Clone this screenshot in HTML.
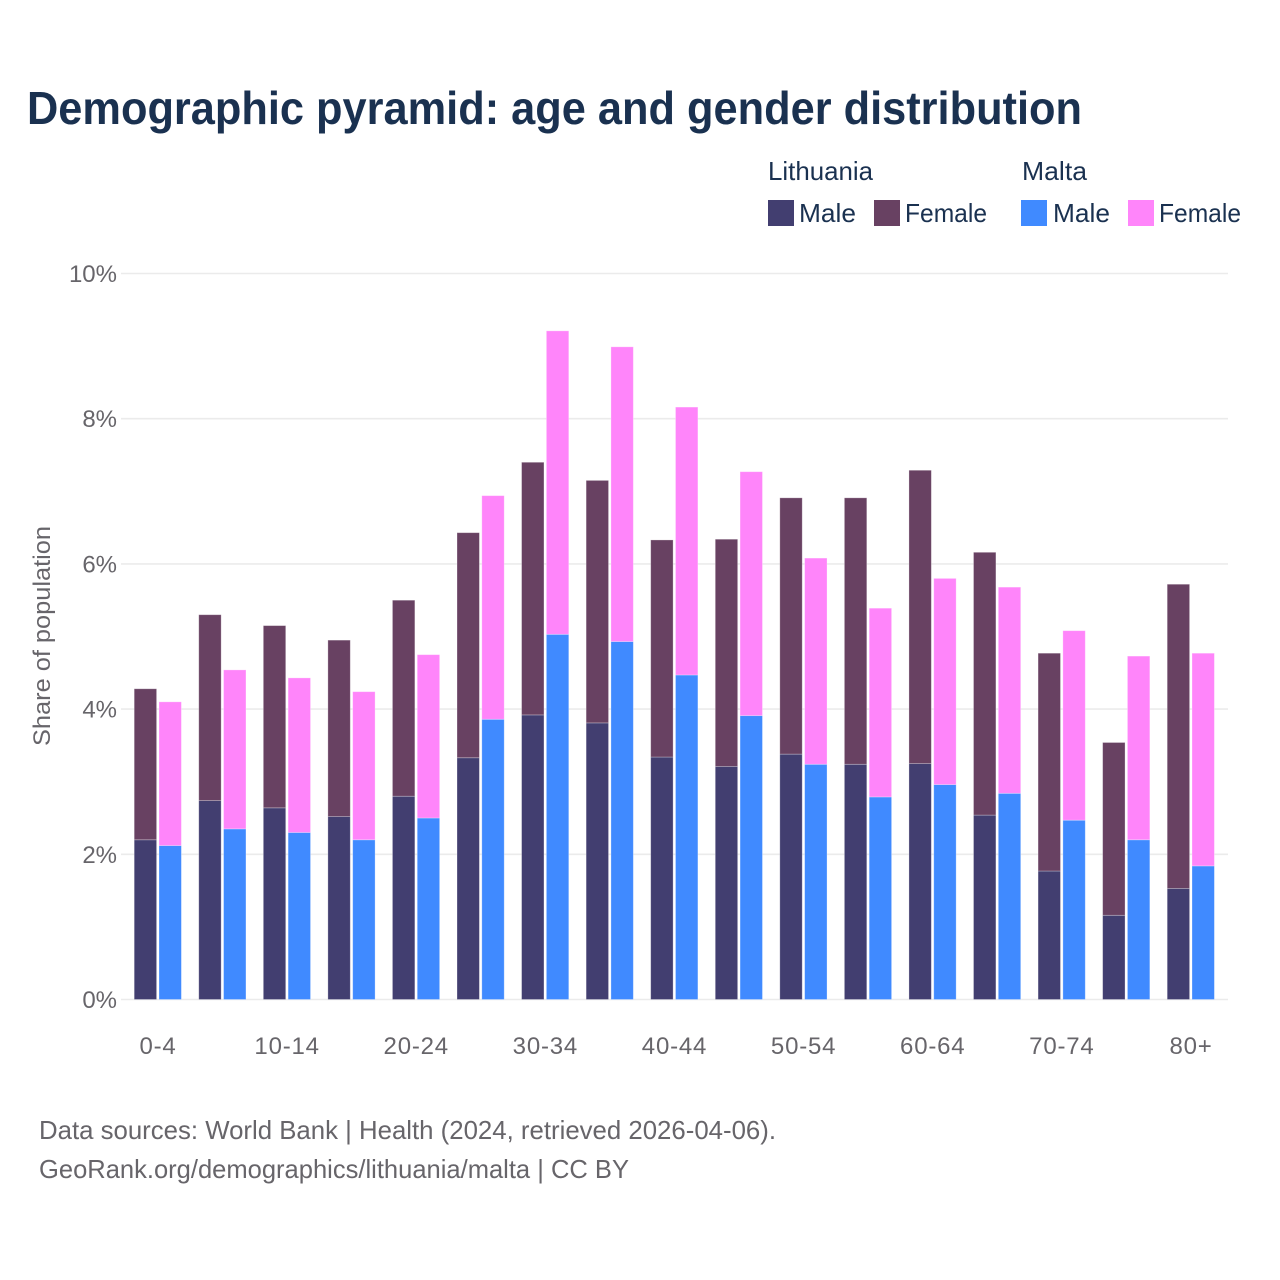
<!DOCTYPE html>
<html lang="en">
<head>
<meta charset="utf-8">
<title>Demographic pyramid</title>
<style>
html,body{margin:0;padding:0;background:#fff;}
svg{display:block;font-family:"Liberation Sans",sans-serif;}
.leg{font-size:26px;fill:#1a3150;}
.tick{font-size:24px;fill:#67656a;}
.xtick{font-size:24px;fill:#67656a;letter-spacing:0.8px;}
.foot{font-size:26px;fill:#67656a;}
</style>
</head>
<body>
<svg id="chart" width="1280" height="1280" viewBox="0 0 1280 1280" xmlns="http://www.w3.org/2000/svg">
<rect width="1280" height="1280" fill="#fff"/>
<text x="27" y="124" font-size="46" font-weight="700" fill="#1a3150" textLength="1055" lengthAdjust="spacingAndGlyphs">Demographic pyramid: age and gender distribution</text>

<text class="leg" x="768" y="180" textLength="105" lengthAdjust="spacingAndGlyphs">Lithuania</text>
<text class="leg" x="1022" y="180" textLength="65" lengthAdjust="spacingAndGlyphs">Malta</text>
<rect x="768" y="200" width="26" height="26" fill="#423e70"/>
<text class="leg" x="799" y="222" textLength="57" lengthAdjust="spacingAndGlyphs">Male</text>
<rect x="874" y="200" width="26" height="26" fill="#684162"/>
<text class="leg" x="905" y="222" textLength="82" lengthAdjust="spacingAndGlyphs">Female</text>
<rect x="1021" y="200" width="26" height="26" fill="#408aff"/>
<text class="leg" x="1053" y="222" textLength="57" lengthAdjust="spacingAndGlyphs">Male</text>
<rect x="1128" y="200" width="26" height="26" fill="#ff85fa"/>
<text class="leg" x="1159" y="222" textLength="82" lengthAdjust="spacingAndGlyphs">Female</text>

<g id="grid"></g>
<g id="bars"></g>
<g id="yticks"></g>
<g id="xticks"></g>

<text class="tick" transform="translate(50,636) rotate(-90)" text-anchor="middle" textLength="220" lengthAdjust="spacingAndGlyphs">Share of population</text>

<text class="foot" x="39" y="1139" textLength="737" lengthAdjust="spacingAndGlyphs">Data sources: World Bank | Health (2024, retrieved 2026-04-06).</text>
<text class="foot" x="39" y="1178" textLength="590" lengthAdjust="spacingAndGlyphs">GeoRank.org/demographics/lithuania/malta | CC BY</text>
</svg>
<script>
const categories = ["0-4","5-9","10-14","15-19","20-24","25-29","30-34","35-39","40-44","45-49","50-54","55-59","60-64","65-69","70-74","75-79","80+"];
const tickLabels = ["0-4","10-14","20-24","30-34","40-44","50-54","60-64","70-74","80+"];
const yTicks = [0,2,4,6,8,10];
const lithuaniaMale = [2.20,2.74,2.64,2.52,2.80,3.33,3.92,3.81,3.34,3.21,3.38,3.24,3.25,2.54,1.77,1.16,1.53];
const lithuaniaFemale = [2.08,2.56,2.51,2.43,2.70,3.10,3.48,3.34,2.99,3.13,3.53,3.67,4.04,3.62,3.00,2.38,4.19];
const maltaMale = [2.12,2.35,2.30,2.20,2.50,3.86,5.03,4.93,4.47,3.91,3.24,2.79,2.96,2.84,2.47,2.20,1.84];
const maltaFemale = [1.98,2.19,2.13,2.04,2.25,3.08,4.18,4.06,3.69,3.36,2.84,2.60,2.84,2.84,2.61,2.53,2.93];

const NS = "http://www.w3.org/2000/svg";
const yScale = v => 999.5 - v * 72.6;
const xBand = i => 158 + (i * (1191 - 158)) / (categories.length - 1);
const barW = 22.4;

function makeEl(tag, attrs, parent) {
  const el = document.createElementNS(NS, tag);
  for (const k in attrs) el.setAttribute(k, attrs[k]);
  parent.appendChild(el);
  return el;
}

const gridG = document.getElementById("grid");
const yG = document.getElementById("yticks");
yTicks.forEach(t => {
  const line = makeEl("line", {x1:121, x2:1228, y1:yScale(t), y2:yScale(t), stroke:"#ebebeb", "stroke-width":1.6}, gridG);
  
  
  const label = makeEl("text", {x:117, y:yScale(t) + 8.5, "text-anchor":"end", class:"tick"}, yG);
  label.textContent = t + "%";
  
  
});

const xG = document.getElementById("xticks");
categories.forEach((c, i) => {
  if (!tickLabels.includes(c)) return;
  const label = makeEl("text", {x:xBand(i), y:1054, "text-anchor":"middle", class:"xtick"}, xG);
  label.textContent = c;
  
  
});

const barsG = document.getElementById("bars");
function drawBar(x, base, value, fill) {
  const rect = makeEl("rect", {
    x:x, y:yScale(base + value), width:barW, height:yScale(base) - yScale(base + value),
    fill:fill, stroke:"#ffffff", "stroke-opacity":0.35, "stroke-width":0.8
  }, barsG);
  
  
}
categories.forEach((c, i) => {
  const left = xBand(i) - 23.8;
  const right = xBand(i) + 1;
  drawBar(left, 0, lithuaniaMale[i], "#423e70");
  drawBar(left, lithuaniaMale[i], lithuaniaFemale[i], "#684162");
  drawBar(right, 0, maltaMale[i], "#408aff");
  drawBar(right, maltaMale[i], maltaFemale[i], "#ff85fa");
});
</script>
</body>
</html>
